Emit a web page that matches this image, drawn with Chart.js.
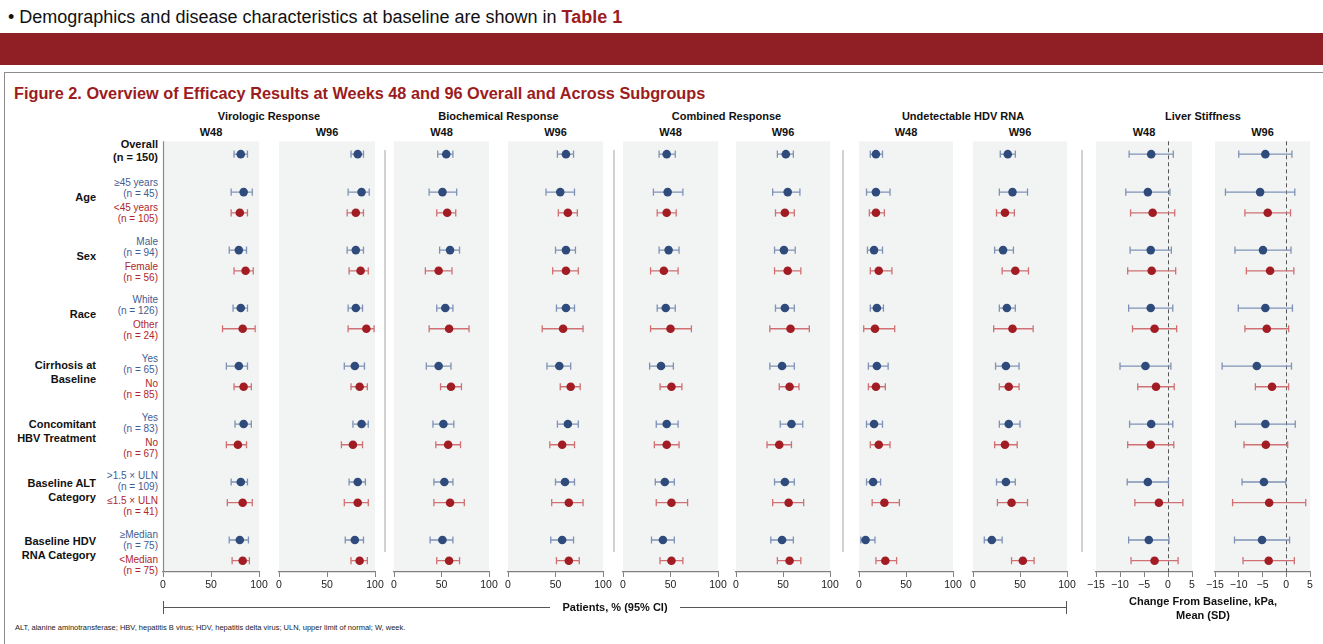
<!DOCTYPE html>
<html><head><meta charset="utf-8">
<script src="https://cdn.jsdelivr.net/npm/chart.js@4.4.1/dist/chart.umd.min.js"></script>
<style>
body{margin:0;background:#fff;}
#root{position:relative;width:1323px;height:644px;overflow:hidden;font-family:"Liberation Sans",Arial,Helvetica,sans-serif;background:#fff;}
.t{position:absolute;white-space:nowrap;line-height:1;}
.r{position:absolute;}
canvas{position:absolute;}
</style></head><body><div id="root"></div>
<script>
// ---------------- DATA ----------------
const overallLabel = ['Overall', '(n = 150)'];
const categories = [['Age'], ['Sex'], ['Race'], ['Cirrhosis at', 'Baseline'], ['Concomitant', 'HBV Treatment'], ['Baseline ALT', 'Category'], ['Baseline HDV', 'RNA Category']];
const subgroups = [
  ['\u226545 years', '(n = 45)'], ['<45 years', '(n = 105)'],
  ['Male', '(n = 94)'], ['Female', '(n = 56)'],
  ['White', '(n = 126)'], ['Other', '(n = 24)'],
  ['Yes', '(n = 65)'], ['No', '(n = 85)'],
  ['Yes', '(n = 83)'], ['No', '(n = 67)'],
  ['>1.5 \u00d7 ULN', '(n = 109)'], ['\u22641.5 \u00d7 ULN', '(n = 41)'],
  ['\u2265Median', '(n = 75)'], ['<Median', '(n = 75)']
];
const endpoints = ['Virologic Response', 'Biochemical Response', 'Combined Response', 'Undetectable HDV RNA', 'Liver Stiffness'];
const weeks = ['W48', 'W96'];
const pctTicks = [0, 50, 100];
const lsTicks = [-15, -10, -5, 0, 5];

// Rows: Overall, then subgroup pairs (order as in subgroups)
const virW48   = [81, 84, 80, 79, 86, 81, 83, 79, 84, 84, 78, 81, 83, 80, 83];
const virW48Lo = [74, 71, 71, 69, 74, 73, 62, 66, 74, 75, 66, 71, 67, 69, 72];
const virW48Hi = [88, 93, 88, 87, 94, 88, 96, 88, 92, 92, 87, 88, 93, 89, 90];

const virW96   = [82, 86, 80, 80, 85, 80, 91, 79, 84, 86, 77, 82, 82, 79, 84];
const virW96Lo = [75, 72, 71, 71, 73, 72, 72, 68, 75, 77, 65, 73, 68, 69, 75];
const virW96Hi = [88, 94, 88, 88, 93, 87, 99, 89, 92, 93, 87, 90, 93, 88, 92];

const bioW48   = [55, 51, 56, 59, 47, 54, 58, 47, 60, 52, 57, 53, 59, 51, 58];
const bioW48Lo = [46, 37, 45, 48, 33, 45, 37, 34, 49, 41, 44, 42, 42, 38, 45];
const bioW48Hi = [62, 66, 65, 69, 61, 62, 79, 60, 71, 63, 70, 62, 74, 62, 69];

const bioW96   = [61, 55, 63, 61, 61, 61, 58, 54, 66, 63, 57, 60, 64, 57, 64];
const bioW96Lo = [52, 40, 53, 50, 47, 51, 36, 41, 55, 52, 44, 50, 46, 45, 51];
const bioW96Hi = [69, 70, 73, 71, 74, 70, 79, 66, 76, 74, 70, 70, 79, 69, 75];

const comW48   = [46, 47, 46, 48, 43, 45, 50, 40, 51, 46, 46, 44, 51, 42, 51];
const comW48Lo = [38, 32, 36, 38, 29, 36, 29, 28, 39, 35, 33, 34, 35, 30, 39];
const comW48Hi = [55, 63, 56, 59, 58, 55, 72, 53, 62, 58, 59, 54, 68, 54, 63];

const comW96   = [53, 55, 52, 51, 55, 52, 58, 49, 57, 59, 46, 52, 56, 49, 57];
const comW96Lo = [44, 39, 42, 41, 41, 42, 36, 36, 46, 47, 33, 41, 39, 37, 44];
const comW96Hi = [61, 68, 62, 63, 69, 62, 78, 62, 67, 71, 59, 62, 72, 61, 69];

const undW48   = [18, 18, 18, 16, 21, 19, 17, 19, 18, 16, 21, 15, 27, 7, 28];
const undW48Lo = [12, 8, 11, 9, 12, 12, 5, 10, 10, 8, 12, 8, 14, 2, 18];
const undW48Hi = [25, 33, 27, 25, 35, 26, 38, 31, 28, 25, 33, 23, 43, 17, 40];

const undW96   = [37, 42, 34, 32, 45, 36, 42, 35, 38, 38, 34, 35, 41, 20, 53];
const undW96Lo = [29, 28, 25, 23, 31, 28, 22, 24, 28, 28, 23, 25, 26, 12, 41];
const undW96Hi = [45, 58, 44, 43, 59, 45, 64, 49, 49, 50, 47, 45, 58, 31, 65];

const lsW48Mean = [-3.5, -4.2, -3.2, -3.6, -3.4, -3.6, -2.8, -4.7, -2.5, -3.5, -3.6, -4.2, -1.9, -4.0, -2.8];
const lsW48SD   = [4.6, 4.6, 4.6, 4.3, 5.0, 4.6, 4.6, 5.3, 3.8, 4.5, 4.8, 4.3, 5.0, 4.2, 4.9];
const lsW96Mean = [-4.4, -5.5, -3.9, -4.9, -3.4, -4.4, -4.1, -6.2, -3.0, -4.4, -4.3, -4.7, -3.6, -5.1, -3.7];
const lsW96SD   = [5.6, 7.3, 4.8, 5.9, 5.0, 5.7, 4.6, 7.3, 3.5, 6.3, 4.6, 4.6, 7.7, 5.8, 5.4];

// ---------------- LAYOUT ----------------
const root = document.getElementById('root');
const BLUE = '#2f4b7c', RED = '#a11d23', BLUE_L = '#7f92b6', RED_L = '#d07073';
const BLUE_T = '#3f5d92', RED_T = '#b0262b';
const FONT = '"Liberation Sans", Arial, Helvetica, sans-serif';
Chart.defaults.font.family = FONT;

function txt(s, x, y, size, o = {}) {
  const d = document.createElement('div'); d.className = 't';
  if (o.html) d.innerHTML = s; else d.textContent = s;
  d.style.fontSize = size + 'px'; d.style.top = (y - size / 2) + 'px';
  d.style.color = o.color || '#111'; if (o.bold) d.style.fontWeight = 'bold';
  const al = o.align || 'left';
  if (al === 'left') d.style.left = x + 'px';
  else if (al === 'right') { d.style.left = (x - 1000) + 'px'; d.style.width = '1000px'; d.style.textAlign = 'right'; }
  else { d.style.left = (x - 500) + 'px'; d.style.width = '1000px'; d.style.textAlign = 'center'; }
  root.appendChild(d); return d;
}
function rect(x, y, w, h, css) {
  const d = document.createElement('div'); d.className = 'r';
  d.style.left = x + 'px'; d.style.top = y + 'px'; d.style.width = w + 'px'; d.style.height = h + 'px';
  Object.assign(d.style, css); root.appendChild(d); return d;
}

// header
txt('\u2022 Demographics and disease characteristics at baseline are shown in <span style="color:#9b1c21;font-weight:bold">Table 1</span>', 8, 17, 18, { html: true });
rect(0, 33, 1323, 32, { background: '#8f1f24' });
rect(4, 72, 1340, 620, { border: '1px solid #8c8c8c', boxSizing: 'border-box' });
txt('Figure 2. Overview of Efficacy Results at Weeks 48 and 96 Overall and Across Subgroups', 14, 93, 16.3, { bold: true, color: '#9b1c21' });

// row geometry (vertical positions in row units)
const ROW0 = 150, UNIT = 20.9, FIRST = 1.833, STEP = 2.802;
const rowPos = i => i === 0 ? 0 : FIRST + STEP * Math.floor((i - 1) / 2) + ((i - 1) % 2);
const rowPx = p => ROW0 + p * UNIT;
const PLOT_TOP = 137, PLOT_BOT = 572;

// left labels
txt(overallLabel[0], 158, 144, 11, { bold: true, align: 'right' });
txt(overallLabel[1], 158, 157, 11, { bold: true, align: 'right' });
categories.forEach((cat, g) => {
  const d1 = rowPx(rowPos(1 + 2 * g)), d2 = rowPx(rowPos(2 + 2 * g)), c = (d1 + d2) / 2;
  if (cat.length === 1) txt(cat[0], 96, c - 1, 11, { bold: true, align: 'right' });
  else { txt(cat[0], 96, c - 8.5, 11, { bold: true, align: 'right' }); txt(cat[1], 96, c + 5.5, 11, { bold: true, align: 'right' }); }
  const a = subgroups[2 * g], b = subgroups[2 * g + 1];
  txt(a[0], 158, c - 15.5, 10, { align: 'right', color: BLUE_T });
  txt(a[1], 158, c - 4.5, 10, { align: 'right', color: BLUE_T });
  txt(b[0], 158, c + 9.5, 10, { align: 'right', color: RED_T });
  txt(b[1], 158, c + 20.5, 10, { align: 'right', color: RED_T });
});

// panels
const panelX = [[163, 259], [279, 375], [394, 489], [508, 603], [623, 718], [736, 830], [859, 953], [973, 1067], [1096, 1192], [1215, 1310]];
const panelData = [
  [virW48, virW48Lo, virW48Hi], [virW96, virW96Lo, virW96Hi],
  [bioW48, bioW48Lo, bioW48Hi], [bioW96, bioW96Lo, bioW96Hi],
  [comW48, comW48Lo, comW48Hi], [comW96, comW96Lo, comW96Hi],
  [undW48, undW48Lo, undW48Hi], [undW96, undW96Lo, undW96Hi],
  [lsW48Mean, lsW48Mean.map((m, i) => m - lsW48SD[i]), lsW48Mean.map((m, i) => m + lsW48SD[i])],
  [lsW96Mean, lsW96Mean.map((m, i) => m - lsW96SD[i]), lsW96Mean.map((m, i) => m + lsW96SD[i])]
];

endpoints.forEach((e, k) => {
  const c = (panelX[2 * k][0] + panelX[2 * k + 1][1]) / 2;
  txt(e, c, 116, 11, { bold: true, align: 'center' });
});
panelX.forEach((p, i) => txt(weeks[i % 2], (p[0] + p[1]) / 2, 132, 11, { bold: true, align: 'center' }));

// separators between endpoints
[385, 614, 843, 1082].forEach(x => rect(x - 1, 150, 2, 402, { background: '#d2d2d2' }));

const bgPlugin = {
  id: 'bg',
  beforeDraw(chart) {
    const { ctx, chartArea: a } = chart;
    ctx.save(); ctx.fillStyle = '#f2f4f4'; ctx.fillRect(a.left, a.top, a.right - a.left, a.bottom - a.top); ctx.restore();
  }
};
const errPlugin = {
  id: 'err',
  beforeDatasetsDraw(chart) {
    const { ctx, chartArea: a, scales: { x, y } } = chart;
    const ds = chart.data.datasets[0];
    ctx.save();
    if (ds.leftAxis) {
      ctx.strokeStyle = '#8a8a8a'; ctx.lineWidth = 1.2;
      ctx.beginPath(); ctx.moveTo(a.left + 0.5, a.top); ctx.lineTo(a.left + 0.5, a.bottom); ctx.stroke();
    }
    if (ds.zeroLine) {
      const zx = Math.round(x.getPixelForValue(0)) + 0.5;
      ctx.strokeStyle = '#555'; ctx.lineWidth = 1; ctx.setLineDash([4, 3]);
      ctx.beginPath(); ctx.moveTo(zx, a.top); ctx.lineTo(zx, a.bottom); ctx.stroke();
      ctx.setLineDash([]);
    }
    ds.data.forEach((pt, i) => {
      const x1 = x.getPixelForValue(ds.lo[i]), x2 = x.getPixelForValue(ds.hi[i]), yy = y.getPixelForValue(pt.y);
      ctx.strokeStyle = ds.errColor[i]; ctx.lineWidth = 1.3;
      ctx.beginPath();
      ctx.moveTo(x1, yy); ctx.lineTo(x2, yy);
      ctx.moveTo(x1, yy - 3.6); ctx.lineTo(x1, yy + 3.6);
      ctx.moveTo(x2, yy - 3.6); ctx.lineTo(x2, yy + 3.6);
      ctx.stroke();
    });
    ctx.restore();
  }
};

const PAD = 16;
panelX.forEach((p, k) => {
  const isLS = k >= 8;
  const [est, lo, hi] = panelData[k];
  const cv = document.createElement('canvas');
  const w = (p[1] - p[0]) + 2 * PAD, h = (PLOT_BOT - PLOT_TOP) + 22;
  cv.width = w; cv.height = h; cv.style.width = w + 'px'; cv.style.height = h + 'px';
  cv.style.left = (p[0] - PAD) + 'px'; cv.style.top = PLOT_TOP + 'px';
  root.appendChild(cv);
  const colors = est.map((_, i) => (i === 0 || i % 2 === 1) ? BLUE : RED);
  const errColor = est.map((_, i) => (i === 0 || i % 2 === 1) ? BLUE_L : RED_L);
  const ticks = isLS ? lsTicks : pctTicks;
  new Chart(cv, {
    type: 'scatter',
    data: {
      datasets: [{
        data: est.map((v, i) => ({ x: v, y: rowPos(i) })),
        lo, hi, errColor, zeroLine: isLS, leftAxis: k === 0,
        backgroundColor: colors, borderColor: colors, pointRadius: 4.3, pointHoverRadius: 4.3, borderWidth: 0
      }]
    },
    options: {
      animation: false, responsive: false, devicePixelRatio: 1,
      layout: { padding: { left: PAD, right: PAD, top: 0, bottom: 0 } },
      plugins: { legend: { display: false }, tooltip: { enabled: false } },
      scales: {
        x: {
          type: 'linear', min: ticks[0], max: ticks[ticks.length - 1],
          afterBuildTicks: s => { s.ticks = ticks.map(v => ({ value: v })); },
          ticks: { color: '#222', font: { size: 10.5, family: FONT }, padding: 2, maxRotation: 0, autoSkip: false,
                   callback: v => v < 0 ? '\u2212' + Math.abs(v) : String(v) },
          grid: { drawOnChartArea: false, drawTicks: true, tickLength: 5, color: '#808080', lineWidth: 1 },
          border: { display: true, color: '#808080', width: 1.2 },
          afterFit: s => { s.height = 22; }
        },
        y: { type: 'linear', display: false, reverse: true, min: -(ROW0 - PLOT_TOP) / UNIT, max: (PLOT_BOT - ROW0) / UNIT }
      }
    },
    plugins: [bgPlugin, errPlugin]
  });
});

// bottom annotations
rect(163, 607, 904, 1, { background: '#555' });
rect(163, 601, 1, 13, { background: '#555' });
rect(1066, 601, 1, 13, { background: '#555' });
const pt = txt('Patients, % (95% CI)', 615, 607, 11, { bold: true, align: 'center' });
pt.innerHTML = '<span style="background:#fff;padding:0 12px">Patients, % (95% CI)</span>';
txt('Change From Baseline, kPa,', 1203, 601, 11, { bold: true, align: 'center' });
txt('Mean (SD)', 1203, 615, 11, { bold: true, align: 'center' });
txt('ALT, alanine aminotransferase; HBV, hepatitis B virus; HDV, hepatitis delta virus; ULN, upper limit of normal; W, week.', 15, 628, 7.5, { color: '#222' });
</script></body></html>
